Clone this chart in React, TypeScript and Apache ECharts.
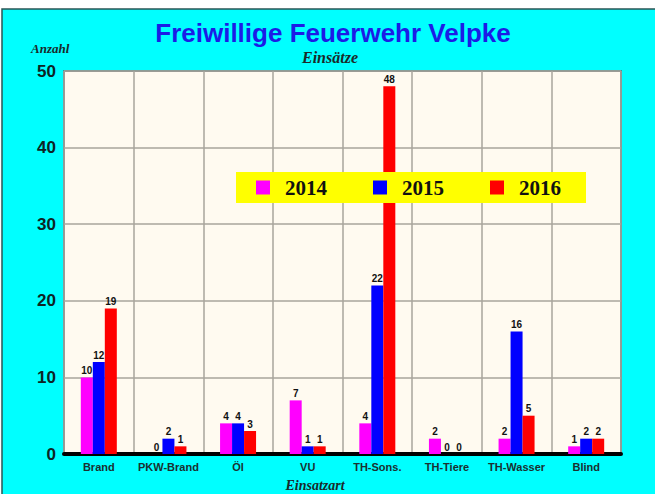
import React, { useEffect, useRef } from "react";
import * as echarts from "echarts";

const categories = ["Brand", "PKW-Brand", "Öl", "VU", "TH-Sons.", "TH-Tiere", "TH-Wasser", "Blind"];
const years = ["2014", "2015", "2016"];
const values2014 = [10, 0, 4, 7, 4, 2, 2, 1];
const values2015 = [12, 2, 4, 1, 22, 0, 16, 2];
const values2016 = [19, 1, 3, 1, 48, 0, 5, 2];
const colors = ["#ff00ff", "#0000ff", "#ff0000"];
const yTicks = { min: 0, max: 50, interval: 10 };

export default function App() {
  const ref = useRef<HTMLDivElement>(null);
  useEffect(() => {
    if (!ref.current) return;
    const chart = echarts.init(ref.current, null, { renderer: "svg" });
    const seriesData = [values2014, values2015, values2016];
    chart.setOption({
      animation: false,
      backgroundColor: "#ffffff",
      graphic: [
        {
          type: "rect",
          z: -10,
          shape: { x: 2, y: 9, width: 700, height: 600 },
          style: { fill: "#00ffff", stroke: "#2a5555", lineWidth: 1.5 },
        },
        {
          type: "text",
          x: 333,
          y: 33,
          style: {
            text: "Freiwillige Feuerwehr Velpke",
            fill: "#1c1ce6",
            font: "bold 26px 'Liberation Sans', Arial, sans-serif",
            align: "center",
            verticalAlign: "middle",
          },
        },
        {
          type: "text",
          x: 330,
          y: 57,
          style: {
            text: "Einsätze",
            fill: "#1a2a2a",
            font: "italic bold 16px 'Liberation Serif', 'Times New Roman', serif",
            align: "center",
            verticalAlign: "middle",
          },
        },
        {
          type: "text",
          x: 31,
          y: 48,
          style: {
            text: "Anzahl",
            fill: "#1a2a2a",
            font: "italic bold 13px 'Liberation Serif', 'Times New Roman', serif",
            verticalAlign: "middle",
          },
        },
        {
          type: "text",
          x: 315,
          y: 485,
          style: {
            text: "Einsatzart",
            fill: "#1a2a2a",
            font: "italic bold 14px 'Liberation Serif', 'Times New Roman', serif",
            align: "center",
            verticalAlign: "middle",
          },
        },
      ],
      legend: {
        data: years,
        left: 236,
        top: 172,
        orient: "horizontal",
        backgroundColor: "#ffff00",
        padding: [5, 25, 5, 20],
        itemGap: 46,
        itemWidth: 14,
        itemHeight: 14,
        icon: "rect",
        textStyle: {
          fontFamily: "'Liberation Serif', 'Times New Roman', serif",
          fontWeight: "bold",
          fontSize: 21,
          color: "#111111",
          padding: [0, 0, 0, 10],
        },
      },
      grid: {
        left: 64,
        right: 34,
        top: 71,
        bottom: 40,
        show: true,
        backgroundColor: "#fffaf0",
        borderColor: "#4a5a5a",
        borderWidth: 1.5,
      },
      xAxis: {
        type: "category",
        data: categories,
        axisLine: { show: true, lineStyle: { color: "#000000", width: 4 } },
        axisTick: { show: false },
        splitLine: { show: true, interval: 0, lineStyle: { color: "#a8a49c", width: 1.5 } },
        axisLabel: {
          interval: 0,
          color: "#1a3030",
          fontFamily: "'Liberation Sans', Arial, sans-serif",
          fontWeight: "bold",
          fontSize: 11,
          margin: 7,
        },
      },
      yAxis: {
        type: "value",
        min: yTicks.min,
        max: yTicks.max,
        interval: yTicks.interval,
        axisLine: { show: false },
        axisTick: { show: false },
        splitLine: { show: true, lineStyle: { color: "#a8a49c", width: 1.5 } },
        axisLabel: {
          color: "#0e2424",
          fontFamily: "'Liberation Sans', Arial, sans-serif",
          fontWeight: "bold",
          fontSize: 17,
          margin: 8,
        },
      },
      series: years.map((y, i) => ({
        name: y,
        type: "bar",
        data: seriesData[i],
        barWidth: 12,
        barGap: "0%",
        itemStyle: { color: colors[i] },
        label: {
          show: true,
          position: "top",
          distance: 2,
          color: "#111111",
          fontFamily: "'Liberation Sans', Arial, sans-serif",
          fontWeight: "bold",
          fontSize: 10,
        },
      })),
    });
    return () => chart.dispose();
  }, []);
  return (
    <div
      ref={ref}
      style={{ position: "fixed", left: 0, top: 0, width: 655, height: 494 }}
    />
  );
}
